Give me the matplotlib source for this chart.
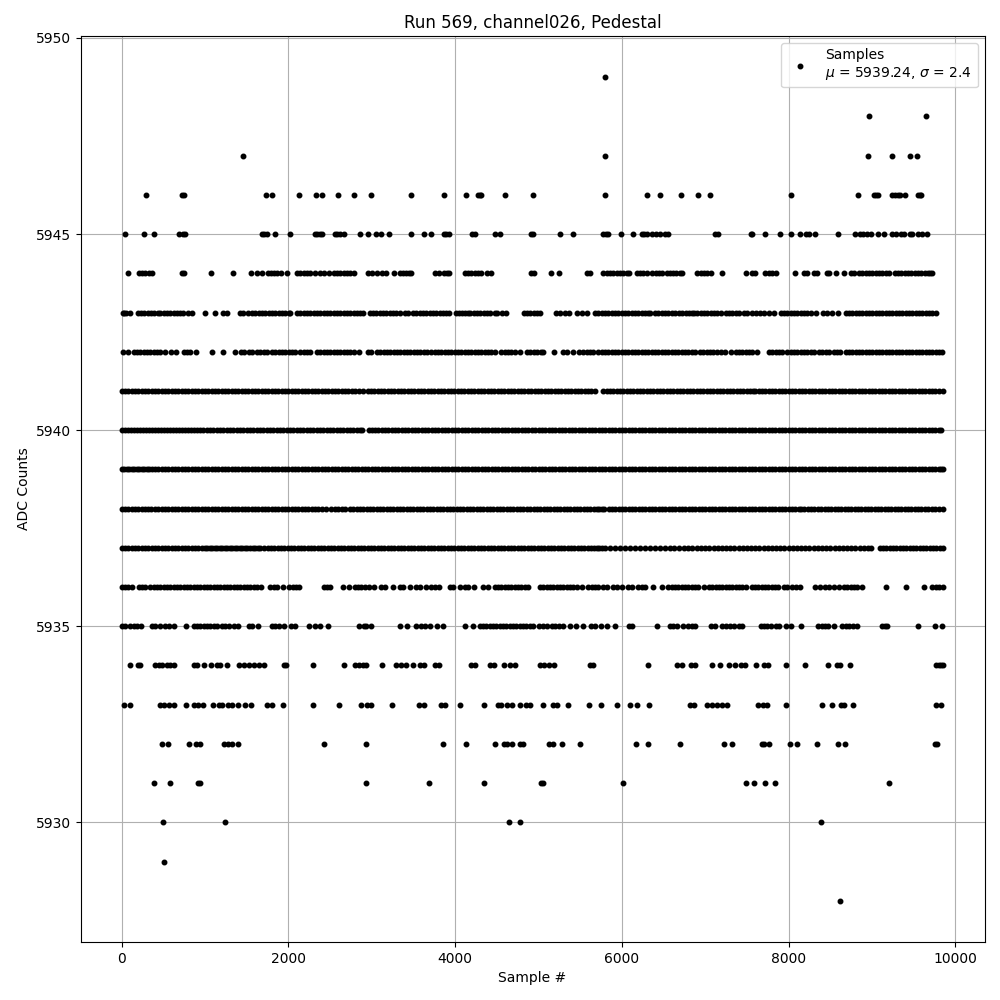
import numpy as np
import matplotlib
matplotlib.use("Agg")
import matplotlib.pyplot as plt

# sample numbers, one list per ADC level
adc_5949 = [5800]
adc_5948 = [8960, 9645]
adc_5947 = [1452, 5800, 8956, 9244, 9460, 9544]
adc_5946 = [288, 728, 752, 1736, 1804, 2124, 2336, 2400, 2592, 2784, 2988, 3472, 3868, 4132, 4272, 4296, 4316, 4600,
            4936, 5800, 6304, 6460, 6704, 6916, 7060, 8032, 8836, 9028, 9052, 9076, 9244, 9276, 9308, 9340, 9392, 9548,
            9572, 9588]
adc_5945 = [36, 264, 384, 684, 736, 760, 1684, 1712, 1744, 1836, 2016, 2316, 2344, 2376, 2404, 2556, 2584, 2616, 2664,
            2856, 2952, 3048, 3108, 3204, 3472, 3628, 3712, 3868, 3896, 3924, 4204, 4236, 4480, 4544, 4908, 4932, 5260,
            5416, 5776, 5804, 5832, 5992, 6136, 6236, 6268, 6300, 6356, 6404, 6452, 6516, 6548, 7116, 7148, 7544, 7560,
            7720, 7900, 8032, 8140, 8204, 8244, 8320, 8596, 8800, 8860, 8892, 8944, 8984, 9072, 9148, 9244, 9284, 9344,
            9384, 9452, 9484, 9548, 9604, 9664]
adc_5944 = [76, 204, 244, 284, 324, 364, 724, 752, 1068, 1332, 1556, 1620, 1684, 1752, 1792, 1832, 1864, 1908, 1980,
            2104, 2144, 2184, 2224, 2264, 2324, 2384, 2424, 2484, 2544, 2584, 2624, 2664, 2704, 2744, 2792, 2952, 3004,
            3064, 3124, 3176, 3264, 3336, 3376, 3416, 3452, 3476, 3756, 3804, 3872, 3904, 3928, 4116, 4156, 4196, 4236,
            4276, 4316, 4384, 4436, 4912, 4944, 5152, 5240, 5576, 5616, 5776, 5816, 5856, 5896, 5936, 5976, 6016, 6056,
            6084, 6176, 6216, 6256, 6304, 6364, 6404, 6444, 6484, 6536, 6576, 6616, 6652, 6696, 6716, 6904, 6944, 6984,
            7024, 7068, 7200, 7484, 7564, 7596, 7720, 7764, 7804, 7844, 8080, 8180, 8220, 8300, 8340, 8456, 8488, 8572,
            8660, 8748, 8784, 8844, 8884, 8924, 8964, 9004, 9044, 9084, 9124, 9164, 9204, 9272, 9312, 9352, 9392, 9432,
            9472, 9512, 9552, 9592, 9632, 9672, 9696, 9724]
adc_5943 = [16, 30, 48, 96, 192, 232, 272, 312, 352, 392, 432, 464, 504, 540, 576, 632, 660, 700, 740, 792, 840, 996,
            1116, 1212, 1260, 1424, 1460, 1520, 1564, 1600, 1644, 1684, 1724, 1764, 1804, 1844, 1884, 1924, 1964, 2004,
            2024, 2104, 2144, 2184, 2224, 2264, 2304, 2344, 2384, 2424, 2464, 2504, 2544, 2584, 2624, 2664, 2704, 2744,
            2784, 2824, 2864, 2892, 2976, 3016, 3056, 3096, 3136, 3176, 3216, 3256, 3296, 3336, 3400, 3436, 3496, 3536,
            3576, 3616, 3656, 3696, 3736, 3776, 3816, 3856, 3896, 3928, 4016, 4052, 4088, 4116, 4150, 4184, 4224, 4264,
            4304, 4344, 4384, 4424, 4476, 4504, 4560, 4616, 4824, 4864, 4904, 4944, 4984, 5016, 5204, 5256, 5316, 5368,
            5456, 5516, 5584, 5676, 5716, 5756, 5796, 5836, 5876, 5916, 5956, 5996, 6036, 6076, 6116, 6156, 6196, 6236,
            6276, 6316, 6336, 6396, 6436, 6476, 6516, 6556, 6596, 6636, 6684, 6724, 6764, 6804, 6844, 6864, 6904, 6944,
            6984, 7024, 7064, 7104, 7144, 7184, 7244, 7284, 7324, 7364, 7404, 7464, 7504, 7564, 7604, 7656, 7708, 7764,
            7824, 7904, 7944, 7984, 8024, 8064, 8104, 8144, 8184, 8224, 8264, 8324, 8412, 8464, 8516, 8596, 8684, 8724,
            8764, 8804, 8844, 8884, 8924, 8964, 9004, 9044, 9084, 9124, 9164, 9204, 9244, 9284, 9324, 9364, 9404, 9444,
            9484, 9524, 9564, 9604, 9644, 9684, 9724, 9772]
adc_5942 = [16, 72, 144, 184, 224, 264, 304, 344, 384, 424, 456, 524, 592, 648, 744, 784, 824, 892, 1084, 1212, 1356,
            1432, 1472, 1524, 1560, 1624, 1664, 1704, 1744, 1804, 1844, 1884, 1924, 1964, 2004, 2044, 2084, 2144, 2184,
            2224, 2264, 2344, 2384, 2424, 2464, 2504, 2544, 2584, 2624, 2664, 2704, 2744, 2784, 2844, 2952, 2992, 3064,
            3104, 3144, 3184, 3224, 3264, 3304, 3344, 3384, 3424, 3464, 3504, 3544, 3584, 3624, 3664, 3716, 3756, 3796,
            3836, 3876, 3916, 3956, 3996, 4036, 4076, 4116, 4156, 4196, 4236, 4276, 4316, 4356, 4396, 4436, 4476, 4556,
            4596, 4636, 4676, 4716, 4784, 4864, 4904, 4944, 4984, 5024, 5056, 5184, 5296, 5340, 5416, 5488, 5536, 5576,
            5616, 5648, 5716, 5756, 5796, 5836, 5876, 5916, 5956, 5996, 6036, 6076, 6116, 6156, 6196, 6236, 6276, 6316,
            6356, 6396, 6436, 6476, 6516, 6556, 6596, 6636, 6676, 6716, 6756, 6796, 6836, 6876, 6936, 6976, 7016, 7056,
            7096, 7144, 7184, 7232, 7304, 7364, 7404, 7444, 7484, 7524, 7564, 7624, 7764, 7804, 7844, 7884, 7924, 7984,
            8024, 8064, 8104, 8144, 8184, 8224, 8264, 8304, 8364, 8404, 8444, 8484, 8540, 8584, 8612, 8684, 8724, 8764,
            8804, 8844, 8884, 8924, 8964, 9004, 9044, 9084, 9124, 9164, 9204, 9244, 9284, 9324, 9364, 9404, 9444, 9484,
            9524, 9564, 9604, 9644, 9684, 9724, 9764, 9804, 9844]
adc_5941 = [0, 40, 80, 120, 160, 200, 240, 280, 320, 360, 400, 440, 480, 520, 560, 600, 640, 680, 720, 760, 800, 840,
            880, 920, 960, 1000, 1040, 1080, 1120, 1160, 1200, 1240, 1280, 1320, 1360, 1400, 1440, 1480, 1512, 1564,
            1600, 1640, 1680, 1720, 1760, 1800, 1840, 1880, 1920, 1960, 2000, 2040, 2080, 2120, 2160, 2200, 2240, 2280,
            2320, 2360, 2400, 2440, 2480, 2520, 2560, 2600, 2640, 2680, 2720, 2760, 2804, 2844, 2892, 2952, 2992, 3032,
            3072, 3112, 3152, 3192, 3232, 3272, 3312, 3352, 3392, 3432, 3472, 3512, 3552, 3592, 3632, 3672, 3712, 3752,
            3792, 3832, 3872, 3912, 3952, 3992, 4032, 4072, 4112, 4152, 4192, 4232, 4272, 4312, 4352, 4392, 4432, 4472,
            4512, 4552, 4592, 4632, 4672, 4712, 4752, 4792, 4832, 4872, 4912, 4952, 4992, 5032, 5072, 5112, 5152, 5192,
            5232, 5272, 5312, 5352, 5392, 5432, 5472, 5512, 5552, 5592, 5632, 5680, 5776, 5816, 5856, 5896, 5936, 5976,
            6016, 6056, 6096, 6136, 6176, 6216, 6256, 6296, 6336, 6376, 6416, 6456, 6496, 6536, 6576, 6616, 6656, 6696,
            6736, 6776, 6816, 6856, 6896, 6936, 6976, 7016, 7056, 7096, 7136, 7176, 7216, 7256, 7296, 7336, 7376, 7416,
            7456, 7496, 7536, 7576, 7600, 7640, 7680, 7720, 7760, 7800, 7840, 7880, 7920, 7960, 8000, 8040, 8080, 8120,
            8160, 8200, 8240, 8280, 8320, 8360, 8400, 8440, 8480, 8520, 8560, 8600, 8640, 8680, 8720, 8760, 8800, 8840,
            8880, 8920, 8960, 9000, 9040, 9080, 9120, 9160, 9200, 9240, 9280, 9320, 9360, 9400, 9440, 9480, 9520, 9560,
            9600, 9640, 9680, 9720, 9760, 9800, 9850]
adc_5940 = [0, 36, 72, 108, 144, 180, 216, 252, 288, 324, 360, 396, 432, 468, 504, 540, 576, 612, 648, 684, 720, 756,
            792, 828, 864, 900, 940, 980, 1020, 1060, 1100, 1140, 1180, 1220, 1260, 1300, 1340, 1380, 1420, 1460, 1500,
            1540, 1580, 1620, 1660, 1700, 1740, 1780, 1820, 1860, 1900, 1940, 1980, 2020, 2060, 2100, 2140, 2180, 2220,
            2260, 2300, 2340, 2380, 2420, 2460, 2500, 2540, 2580, 2620, 2660, 2700, 2740, 2780, 2820, 2860, 2888, 2964,
            3000, 3040, 3080, 3120, 3160, 3200, 3240, 3280, 3320, 3360, 3400, 3440, 3480, 3520, 3560, 3600, 3640, 3680,
            3720, 3760, 3800, 3840, 3880, 3920, 3960, 4000, 4040, 4080, 4120, 4160, 4200, 4240, 4280, 4320, 4360, 4400,
            4440, 4480, 4520, 4560, 4600, 4640, 4680, 4720, 4760, 4800, 4840, 4880, 4920, 4960, 5000, 5040, 5080, 5120,
            5160, 5200, 5240, 5280, 5320, 5360, 5400, 5440, 5480, 5520, 5560, 5600, 5640, 5680, 5720, 5760, 5800, 5840,
            5880, 5920, 5960, 6000, 6040, 6080, 6120, 6160, 6200, 6240, 6280, 6320, 6360, 6400, 6440, 6480, 6520, 6560,
            6600, 6640, 6680, 6720, 6760, 6800, 6840, 6880, 6920, 6960, 7000, 7040, 7080, 7120, 7160, 7200, 7240, 7280,
            7320, 7360, 7400, 7440, 7480, 7520, 7560, 7600, 7640, 7680, 7720, 7760, 7800, 7840, 7880, 7920, 7960, 8000,
            8040, 8080, 8120, 8160, 8200, 8240, 8280, 8320, 8360, 8400, 8440, 8480, 8520, 8560, 8600, 8640, 8680, 8720,
            8760, 8800, 8840, 8880, 8920, 8960, 9000, 9040, 9080, 9120, 9160, 9200, 9240, 9280, 9320, 9360, 9400, 9440,
            9480, 9520, 9560, 9600, 9640, 9680, 9720, 9760, 9800, 9824]
adc_5939 = [0, 30, 60, 90, 120, 150, 180, 210, 240, 270, 300, 330, 360, 400, 440, 480, 520, 560, 600, 640, 680, 720,
            760, 800, 840, 880, 920, 960, 1000, 1040, 1080, 1120, 1160, 1200, 1240, 1280, 1320, 1360, 1400, 1440, 1480,
            1520, 1560, 1600, 1640, 1680, 1720, 1760, 1800, 1840, 1880, 1920, 1960, 2000, 2040, 2080, 2120, 2160, 2200,
            2240, 2280, 2320, 2360, 2400, 2440, 2480, 2520, 2560, 2600, 2640, 2680, 2720, 2760, 2800, 2840, 2880, 2920,
            2960, 3000, 3040, 3080, 3120, 3160, 3200, 3240, 3280, 3320, 3360, 3400, 3440, 3480, 3520, 3560, 3600, 3640,
            3680, 3720, 3760, 3800, 3840, 3880, 3920, 3960, 4000, 4040, 4080, 4120, 4160, 4200, 4240, 4280, 4320, 4360,
            4400, 4440, 4480, 4520, 4560, 4600, 4640, 4680, 4720, 4760, 4800, 4840, 4880, 4920, 4960, 5000, 5040, 5080,
            5120, 5160, 5200, 5240, 5280, 5320, 5360, 5400, 5440, 5480, 5520, 5560, 5600, 5640, 5680, 5720, 5760, 5800,
            5840, 5880, 5920, 5960, 6000, 6040, 6080, 6120, 6160, 6200, 6240, 6280, 6320, 6360, 6400, 6440, 6480, 6520,
            6560, 6600, 6640, 6680, 6720, 6760, 6800, 6840, 6880, 6920, 6960, 7000, 7040, 7080, 7120, 7160, 7200, 7240,
            7280, 7320, 7360, 7400, 7440, 7480, 7520, 7560, 7600, 7640, 7680, 7720, 7760, 7800, 7840, 7880, 7920, 7960,
            8000, 8040, 8080, 8120, 8160, 8200, 8240, 8280, 8320, 8360, 8400, 8440, 8480, 8520, 8560, 8600, 8640, 8680,
            8720, 8760, 8800, 8840, 8880, 8920, 8960, 9000, 9040, 9080, 9120, 9160, 9200, 9240, 9280, 9320, 9360, 9400,
            9440, 9480, 9520, 9560, 9600, 9640, 9680, 9720, 9760, 9800, 9830, 9856]
adc_5938 = [0, 40, 80, 120, 160, 200, 240, 280, 320, 352, 400, 440, 480, 520, 560, 600, 640, 680, 720, 760, 800, 840,
            880, 920, 960, 1000, 1040, 1080, 1120, 1160, 1200, 1240, 1280, 1320, 1360, 1400, 1440, 1480, 1520, 1560,
            1600, 1640, 1680, 1720, 1760, 1800, 1840, 1880, 1920, 1960, 2000, 2040, 2080, 2120, 2160, 2200, 2240, 2280,
            2320, 2360, 2400, 2452, 2512, 2560, 2600, 2640, 2684, 2740, 2780, 2820, 2860, 2900, 2940, 2980, 3020, 3060,
            3100, 3140, 3180, 3220, 3260, 3300, 3340, 3380, 3420, 3460, 3500, 3540, 3580, 3620, 3660, 3700, 3740, 3780,
            3820, 3860, 3900, 3940, 3980, 4020, 4060, 4100, 4140, 4180, 4220, 4260, 4300, 4340, 4380, 4420, 4460, 4500,
            4540, 4580, 4620, 4660, 4700, 4740, 4780, 4820, 4860, 4900, 4940, 4980, 5020, 5060, 5100, 5140, 5180, 5220,
            5260, 5300, 5340, 5380, 5420, 5460, 5500, 5540, 5580, 5620, 5660, 5700, 5730, 5760, 5784, 5840, 5880, 5920,
            5960, 6000, 6040, 6080, 6120, 6160, 6200, 6240, 6280, 6320, 6360, 6400, 6440, 6480, 6520, 6560, 6600, 6640,
            6680, 6720, 6760, 6800, 6840, 6880, 6920, 6960, 7000, 7040, 7080, 7120, 7160, 7200, 7240, 7280, 7320, 7360,
            7400, 7440, 7480, 7520, 7560, 7600, 7640, 7680, 7720, 7760, 7800, 7840, 7880, 7920, 7960, 8000, 8040, 8080,
            8120, 8150, 8190, 8230, 8270, 8310, 8350, 8390, 8430, 8470, 8510, 8550, 8590, 8630, 8670, 8710, 8750, 8790, 8830,
            8870, 8910, 8950, 8990, 9030, 9070, 9110, 9150, 9190, 9230, 9270, 9310, 9350, 9390, 9430, 9470, 9510, 9550,
            9590, 9630, 9676, 9720, 9760, 9800, 9850]
adc_5937 = [0, 40, 80, 120, 160, 200, 240, 280, 320, 360, 400, 440, 480, 520, 560, 600, 640, 680, 720, 760, 800, 840,
            880, 920, 960, 1000, 1030, 1060, 1090, 1120, 1150, 1180, 1210, 1240, 1270, 1300, 1330, 1360, 1390, 1420,
            1450, 1480, 1510, 1540, 1570, 1600, 1630, 1664, 1708, 1750, 1790, 1830, 1870, 1910, 1950, 1990, 2030, 2070,
            2110, 2150, 2190, 2230, 2270, 2310, 2350, 2390, 2430, 2470, 2510, 2550, 2590, 2630, 2670, 2710, 2750, 2790,
            2830, 2870, 2910, 2950, 2990, 3030, 3070, 3110, 3150, 3190, 3230, 3270, 3310, 3350, 3390, 3430, 3470, 3510,
            3550, 3590, 3630, 3670, 3710, 3750, 3790, 3830, 3870, 3910, 3950, 3990, 4030, 4070, 4110, 4150, 4190, 4230,
            4270, 4310, 4350, 4390, 4430, 4470, 4510, 4550, 4590, 4630, 4670, 4710, 4750, 4790, 4830, 4870, 4910, 4950,
            4990, 5030, 5070, 5110, 5150, 5190, 5230, 5270, 5310, 5350, 5390, 5430, 5470, 5510, 5550, 5590, 5630, 5670,
            5700, 5730, 5760, 5796, 5860, 5920, 5980, 6040, 6100, 6160, 6220, 6280, 6340, 6400, 6460, 6520, 6580, 6630,
            6684, 6740, 6790, 6840, 6900, 6950, 7000, 7050, 7100, 7150, 7200, 7250, 7300, 7350, 7400, 7450, 7500, 7550,
            7600, 7650, 7700, 7750, 7800, 7850, 7900, 7950, 8000, 8050, 8100, 8150, 8200, 8250, 8300, 8350, 8400, 8450,
            8500, 8550, 8600, 8650, 8700, 8750, 8800, 8850, 8900, 8950, 8984, 9092, 9130, 9170, 9210, 9250, 9290, 9330,
            9370, 9410, 9450, 9490, 9530, 9570, 9610, 9650, 9690, 9730, 9770, 9810, 9850]
adc_5936 = [0, 40, 76, 124, 204, 244, 284, 336, 384, 424, 464, 504, 544, 584, 624, 664, 704, 744, 784, 824, 864, 904,
            944, 984, 1024, 1064, 1104, 1144, 1184, 1224, 1264, 1304, 1344, 1384, 1424, 1464, 1504, 1544, 1584, 1624,
            1672, 1784, 1824, 1864, 1932, 2012, 2052, 2092, 2124, 2424, 2464, 2504, 2652, 2732, 2796, 2836, 2876, 2916,
            2964, 3024, 3112, 3164, 3252, 3336, 3380, 3456, 3536, 3584, 3656, 3716, 3756, 3808, 3936, 3976, 4056, 4116,
            4156, 4228, 4336, 4396, 4476, 4516, 4556, 4596, 4636, 4676, 4716, 4756, 4796, 4836, 4876, 5016, 5056, 5096,
            5136, 5176, 5216, 5256, 5296, 5336, 5376, 5416, 5456, 5516, 5596, 5636, 5676, 5716, 5776, 5824, 5896, 5936,
            6004, 6076, 6116, 6196, 6236, 6276, 6376, 6484, 6556, 6596, 6636, 6676, 6716, 6756, 6796, 6836, 6876, 6916,
            6984, 7044, 7084, 7124, 7164, 7204, 7244, 7284, 7324, 7364, 7404, 7444, 7484, 7556, 7596, 7636, 7676, 7716,
            7756, 7796, 7836, 7876, 7944, 7980, 8044, 8084, 8132, 8316, 8376, 8436, 8484, 8544, 8604, 8664, 8704, 8744,
            8784, 8824, 8884, 9172, 9412, 9628, 9724, 9764, 9804, 9850]
adc_5935 = [0, 44, 104, 144, 184, 232, 364, 404, 456, 524, 564, 632, 768, 864, 904, 944, 984, 1024, 1064, 1104, 1144,
            1204, 1244, 1284, 1344, 1392, 1524, 1564, 1632, 1804, 1844, 1884, 1944, 2032, 2084, 2244, 2324, 2376, 2480,
            2844, 2904, 2936, 2992, 3336, 3424, 3528, 3596, 3636, 3704, 3788, 3856, 4120, 4216, 4296, 4336, 4376, 4416,
            4456, 4496, 4536, 4576, 4616, 4656, 4696, 4736, 4776, 4816, 4856, 4896, 4936, 5008, 5048, 5096, 5156, 5196,
            5248, 5296, 5376, 5444, 5528, 5624, 5676, 5744, 5824, 5920, 6084, 6120, 6420, 6576, 6616, 6656, 6728, 6796,
            6836, 6876, 7064, 7112, 7204, 7250, 7292, 7344, 7404, 7444, 7664, 7704, 7744, 7784, 7844, 7884, 7964, 8024,
            8152, 8356, 8396, 8436, 8476, 8544, 8644, 8684, 8724, 8770, 8816, 9124, 9150, 9184, 9556, 9756, 9844]
adc_5934 = [96, 192, 224, 404, 444, 484, 544, 584, 624, 864, 904, 984, 1076, 1144, 1184, 1264, 1404, 1464, 1524, 1584,
            1644, 1704, 1944, 1972, 2292, 2664, 2796, 2844, 2896, 2936, 3120, 3296, 3352, 3416, 3496, 3584, 3624, 3756,
            3804, 4196, 4236, 4424, 4464, 4588, 4656, 4716, 5016, 5064, 5124, 5184, 5616, 5648, 6316, 6656, 6716, 6828,
            6876, 7084, 7180, 7284, 7356, 7424, 7472, 7612, 7704, 7756, 7972, 8200, 8476, 8576, 8616, 8740, 9770, 9800,
            9830, 9850]
adc_5933 = [32, 96, 464, 504, 564, 624, 768, 864, 912, 972, 1092, 1164, 1204, 1272, 1324, 1392, 1484, 1552, 1744, 1804,
            1936, 2292, 2604, 2872, 2944, 2992, 3240, 3564, 3624, 3836, 3884, 4060, 4348, 4516, 4556, 4628, 4688, 4784,
            4856, 4904, 5052, 5176, 5224, 5356, 5608, 5752, 5940, 6100, 6180, 6328, 6816, 6868, 7024, 7084, 7144, 7196,
            7264, 7636, 7692, 7744, 7972, 8404, 8516, 8624, 8664, 8772, 9772, 9824]
adc_5932 = [484, 552, 804, 896, 936, 1224, 1272, 1324, 1392, 2424, 2928, 3856, 4132, 4480, 4584, 4624, 4684, 4776, 4816,
            5120, 5168, 5284, 5500, 6172, 6316, 6700, 7228, 7324, 7684, 7704, 7768, 8020, 8104, 8344, 8596, 8672, 9756,
            9784]
adc_5931 = [384, 576, 912, 944, 2928, 3688, 4348, 5032, 5056, 6016, 7492, 7588, 7720, 7840, 9208]
adc_5930 = [492, 1236, 4648, 4780, 8392]
adc_5929 = [504]
adc_5928 = [8620]

levels = [5949, 5948, 5947, 5946, 5945, 5944, 5943, 5942, 5941, 5940,
          5939, 5938, 5937, 5936, 5935, 5934, 5933, 5932, 5931, 5930, 5929, 5928]
rows = [adc_5949, adc_5948, adc_5947, adc_5946, adc_5945, adc_5944, adc_5943, adc_5942, adc_5941, adc_5940,
        adc_5939, adc_5938, adc_5937, adc_5936, adc_5935, adc_5934, adc_5933, adc_5932, adc_5931, adc_5930,
        adc_5929, adc_5928]

samples = np.concatenate([np.array(r) for r in rows])
counts = np.concatenate([np.full(len(r), lv) for lv, r in zip(levels, rows)])

fig, ax = plt.subplots(figsize=(10, 10))
ax.plot(samples, counts, 'k.', ms=6.5, label="Samples\n$\\mu$ = 5939.24, $\\sigma$ = 2.4")
ax.set_title("Run 569, channel026, Pedestal", pad=6)
ax.set_xlabel("Sample #")
ax.set_ylabel("ADC Counts", labelpad=3)
ax.grid(True)
ax.legend(loc="upper right")
fig.subplots_adjust(left=0.0805, right=0.9845, top=0.964, bottom=0.058)
fig.savefig("out.png", dpi=100)
